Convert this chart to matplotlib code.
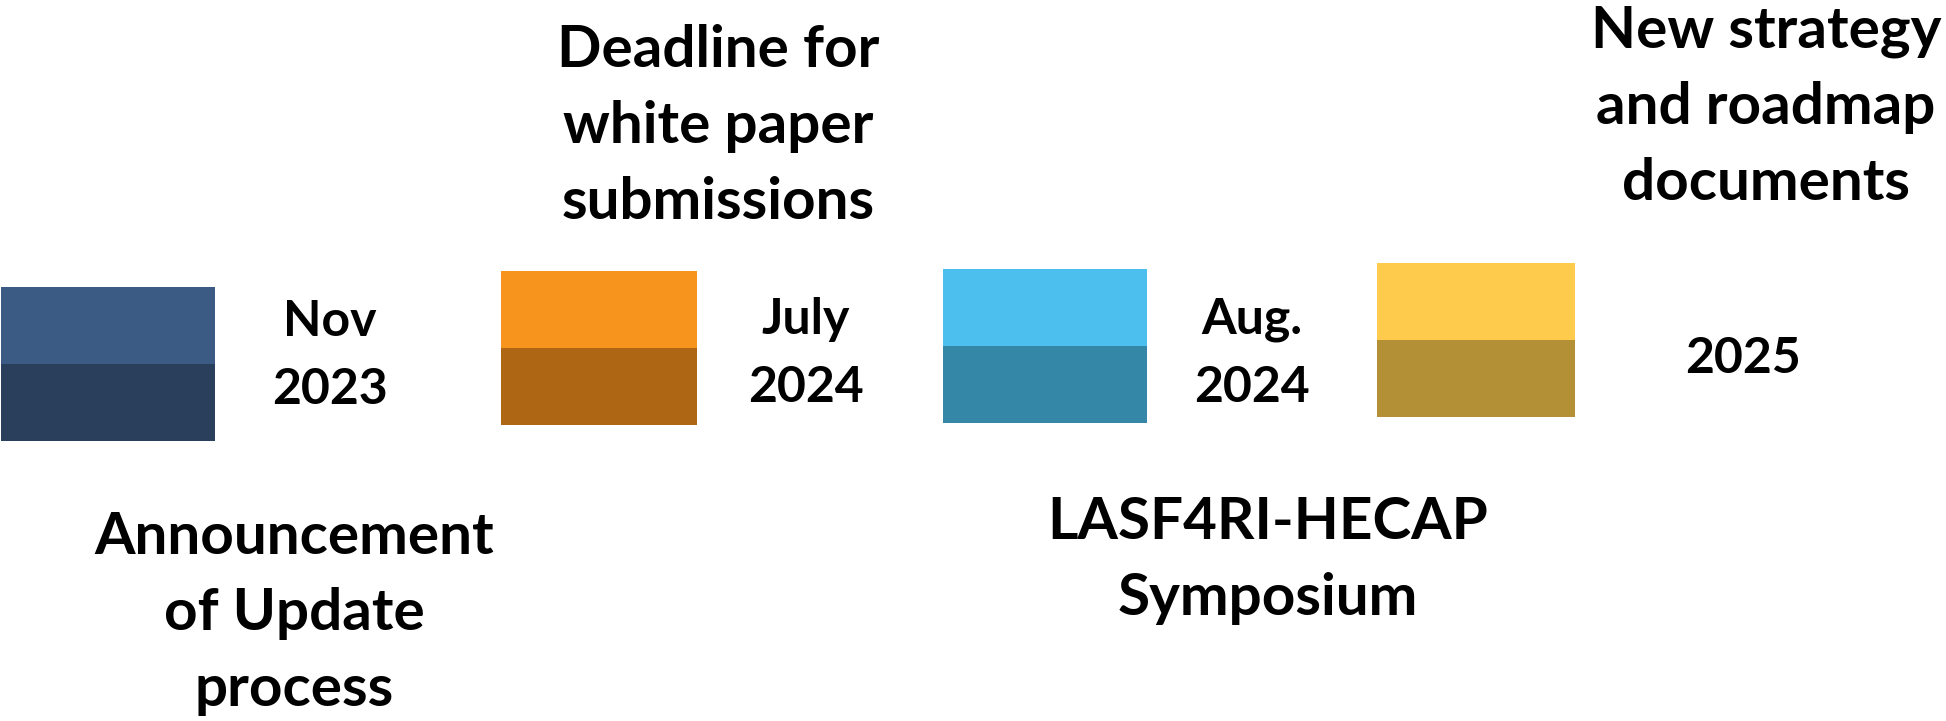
import matplotlib
matplotlib.use("Agg")
import matplotlib.pyplot as plt

# timeline data
dates = ["Nov\n2023", "July\n2024", "Aug.\n2024", "2025"]
events = ["Announcement\nof Update\nprocess",
          "Deadline for\nwhite paper\nsubmissions",
          "LASF4RI-HECAP\nSymposium",
          "New strategy\nand roadmap\ndocuments"]
top_colors = ["#3B5B84", "#F7941E", "#4DBFEE", "#FFCB4C"]
bottom_colors = ["#2A3F5C", "#AF6614", "#3487A7", "#B38F35"]

# layout (pixels of the 1946x721 picture)
box_left = [1, 501, 943, 1377]
box_width = [214, 196, 204, 198]
box_top = [287, 271, 269, 263]
box_half = 77
date_x = [330, 806, 1252, 1743]
date_base = [336, 334, 334, 373]
event_x = [294, 718, 1268, 1766]
event_base = [554, 67, 539, 48]

plt.rcParams['font.family'] = ['Lato', 'DejaVu Sans']

fig = plt.figure(figsize=(19.46, 7.21), dpi=100)
ax = fig.add_axes([0, 0, 1, 1])
ax.set_xlim(0, 1946)
ax.set_ylim(721, 0)
ax.axis("off")

for i in range(len(dates)):
    ax.bar(box_left[i], box_half, width=box_width[i], bottom=box_top[i],
           align="edge", color=top_colors[i], linewidth=0)
    ax.bar(box_left[i], box_half, width=box_width[i], bottom=box_top[i] + box_half,
           align="edge", color=bottom_colors[i], linewidth=0)

    for j, line in enumerate(dates[i].split("\n")):
        ax.text(date_x[i], date_base[i] + j * 68, line, ha="center", va="baseline",
                fontsize=36, fontweight="bold", color="black")

    for j, line in enumerate(events[i].split("\n")):
        ax.text(event_x[i], event_base[i] + j * 76, line, ha="center", va="baseline",
                fontsize=42, fontweight="bold", color="black")

fig.savefig("out.png", dpi=100, facecolor="white")
